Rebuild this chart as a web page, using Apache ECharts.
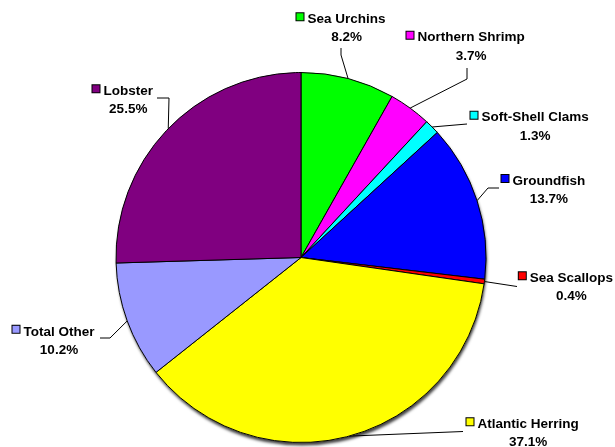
<!DOCTYPE html>
<html><head><meta charset="utf-8">
<script src="https://cdn.jsdelivr.net/npm/echarts@6/dist/echarts.min.js"></script>
<style>html,body{margin:0;padding:0;background:#fff}#c{width:615px;height:447px}</style>
</head><body><div id="c"></div>
<script>
const categories = ['Sea Urchins','Northern Shrimp','Soft-Shell Clams','Groundfish','Sea Scallops','Atlantic Herring','Total Other','Lobster'];
const shares = [8.2, 3.7, 1.3, 13.7, 0.4, 37.1, 10.2, 25.5];
const colors = ['#00FF00','#FF00FF','#00FFFF','#0000FF','#FF0000','#FFFF00','#9999FF','#800080'];

// label placement (top-left of label block) and leader line geometry
const labelPos = [[296.5,13.3],[406.5,31.7],[470.5,111.7],[501.5,175],[518.8,272.3],[466.5,418.3],[12.5,325.8],[92.5,85.3]];
const leaderEnd = [[341,48],[467,68],[467,124],[499,188],[517,286.5],[463,431.5],[100,338],[157,98]];
const leaderElbow = [[341,55],[467,79],null,[488,188],null,null,[110,338],[169,98]];

const FONT = '"Liberation Sans", Arial, sans-serif';
const rich = {
  n: {fontSize: 13.5, fontWeight: 'bold', fontFamily: FONT, color: '#000', lineHeight: 12, padding: [0,0,0,4]},
  p: {fontSize: 13.5, fontWeight: 'bold', fontFamily: FONT, color: '#000', lineHeight: 24.6, align: 'center', padding: [0,0,0,11]}
};
colors.forEach((c, i) => {
  rich['sq' + i] = {width: 7, height: 7, backgroundColor: c, borderColor: '#000', borderWidth: 1, verticalAlign: 'top'};
});

const data = categories.map((name, i) => ({name, value: shares[i], itemStyle: {color: colors[i]}}));

const chart = echarts.init(document.getElementById('c'), null, {renderer: 'canvas'});
chart.setOption({
  animation: false,
  backgroundColor: '#fff',
  series: [
    {
      type: 'pie', silent: true, z: 1,
      center: [301, 257.5], radius: 185,
      label: {show: false}, labelLine: {show: false},
      itemStyle: {color: '#fff', shadowColor: 'rgba(0,0,0,0.75)', shadowBlur: 3, shadowOffsetX: 1, shadowOffsetY: 3},
      data: [{name: '', value: 1}]
    },
    {
      type: 'pie', z: 2,
      center: [301, 257.5], radius: 185,
      startAngle: 90, clockwise: true,
      avoidLabelOverlap: false,
      emphasis: {disabled: true},
      itemStyle: {borderColor: '#000', borderWidth: 1},
      label: {
        show: true,
        formatter: p => `{sq${p.dataIndex}|}{n|${p.name}}\n{p|${p.value.toFixed(1)}%}`,
        rich
      },
      labelLine: {show: true, smooth: false, lineStyle: {color: '#000', width: 1}},
      labelLayout: function (p) {
        const i = p.dataIndex;
        const edge = (p.labelLinePoints && p.labelLinePoints[0]) || leaderEnd[i];
        const pts = [edge];
        if (leaderElbow[i]) pts.push(leaderElbow[i]);
        pts.push(leaderEnd[i]);
        return {x: labelPos[i][0], y: labelPos[i][1], align: 'left', verticalAlign: 'top', labelLinePoints: pts};
      },
      data
    }
  ]
});
</script></body></html>
